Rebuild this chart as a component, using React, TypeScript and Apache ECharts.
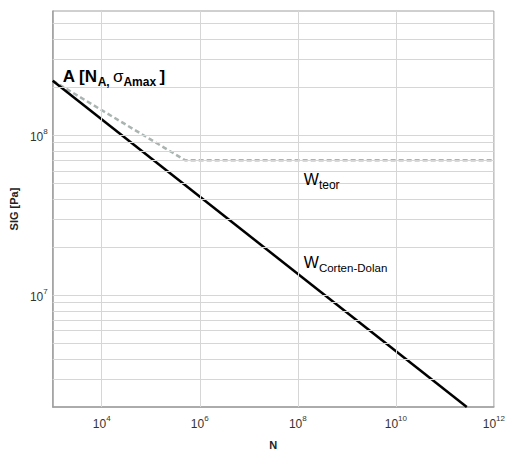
import React, { useEffect, useRef } from "react";
import * as echarts from "echarts";

// Axis extents
const xMin = 1e3;
const xMax = 1e12;
const yMin = 2e6;
const yMax = 6e8;

// Corten-Dolan curve (N, sigma)
const cortenN = [1e3, 2.8e11];
const cortenSig = [2.2e8, 2e6];

// Theoretical curve (N, sigma)
const teorN = [1e3, 5e5, 1e12];
const teorSig = [2.2e8, 7e7, 7e7];

// Grid line positions
const gridXValues = [1e4, 1e6, 1e8, 1e10];
const gridYValues = [
  3e6, 4e6, 5e6, 6e6, 7e6, 8e6, 9e6,
  1e7, 2e7, 3e7, 4e7, 5e7, 6e7, 7e7, 8e7, 9e7,
  1e8, 2e8, 3e8, 4e8, 5e8,
];

// Annotation anchors
const pointA = [1e3, 2.2e8];
const teorLabelAt = [1e8, 7e7];
const cortenLabelAt = [1e8, 1.35e7];

const isPow10 = (v: number) => {
  const l = Math.log10(v);
  return Math.abs(l - Math.round(l)) < 1e-6;
};

const FONT = "Liberation Sans, Arial, sans-serif";

const supRich = {
  b: { fontSize: 12, color: "#333", fontFamily: FONT, lineHeight: 16, verticalAlign: "bottom" },
  s: { fontSize: 8, color: "#333", fontFamily: FONT, lineHeight: 16, verticalAlign: "top" },
};

export default function App() {
  const ref = useRef<HTMLDivElement>(null);
  useEffect(() => {
    if (!ref.current) return;
    const chart = echarts.init(ref.current, null, { renderer: "svg" });
    const gridLine = { color: "#d6d6d6", width: 1, type: "solid" as const };
    chart.setOption({
      animation: false,
      backgroundColor: "#ffffff",
      grid: {
        left: 52,
        top: 11,
        width: 445,
        height: 407,
        show: true,
        borderColor: "#a0a0a0",
        borderWidth: 1,
        backgroundColor: "transparent",
      },
      xAxis: {
        type: "log",
        logBase: 10,
        min: xMin,
        max: xMax,
        name: "N",
        nameLocation: "middle",
        nameGap: 32,
        nameTextStyle: { fontSize: 11, fontWeight: "bold", color: "#222", fontFamily: FONT },
        axisLine: { show: true, lineStyle: { color: "#a0a0a0", width: 1.5 } },
        axisTick: { show: false },
        splitLine: { show: false },
        axisLabel: {
          margin: 7,
          color: "#333",
          formatter: (v: number) => {
            if (!isPow10(v)) return "";
            const e = Math.round(Math.log10(v));
            if (e % 2 !== 0) return "";
            return "{b|10}{s|" + e + "}";
          },
          rich: supRich,
        },
      },
      yAxis: {
        type: "log",
        logBase: 10,
        min: yMin,
        max: yMax,
        name: "SIG [Pa]",
        nameLocation: "middle",
        nameGap: 28,
        nameRotate: 90,
        nameTextStyle: { fontSize: 11, fontWeight: "bold", color: "#222", fontFamily: FONT },
        axisLine: { show: true, lineStyle: { color: "#a0a0a0", width: 1.5 } },
        axisTick: { show: false },
        splitLine: { show: false },
        axisLabel: {
          margin: 5,
          color: "#333",
          formatter: (v: number) => {
            if (!isPow10(v)) return "";
            const e = Math.round(Math.log10(v));
            return "{b|10}{s|" + e + "}";
          },
          rich: supRich,
        },
      },
      series: [
        {
          name: "grid",
          type: "line",
          data: [],
          z: 1,
          silent: true,
          markLine: {
            silent: true,
            symbol: "none",
            label: { show: false },
            lineStyle: gridLine,
            data: [
              ...gridXValues.map((v) => ({ xAxis: v })),
              ...gridYValues.map((v) => ({ yAxis: v })),
            ],
          },
        },
        {
          name: "W teor",
          type: "line",
          z: 3,
          symbol: "none",
          lineStyle: { color: "#aab4b2", width: 2.5, type: [5, 3] },
          data: teorN.map((n, i) => [n, teorSig[i]]),
          markPoint: {
            symbol: "circle",
            symbolSize: 0,
            data: [{ coord: teorLabelAt }],
            label: {
              show: true,
              position: [6, 11],
              align: "left",
              verticalAlign: "top",
              formatter: "{w|W}{t|teor}",
              rich: {
                w: { fontSize: 16, color: "#000", fontFamily: FONT, lineHeight: 20, verticalAlign: "top" },
                t: { fontSize: 12, color: "#000", fontFamily: FONT, lineHeight: 20, verticalAlign: "bottom" },
              },
            },
          },
        },
        {
          name: "W Corten-Dolan",
          type: "line",
          z: 4,
          symbol: "none",
          lineStyle: { color: "#000000", width: 2.5 },
          data: cortenN.map((n, i) => [n, cortenSig[i]]),
          markPoint: {
            symbol: "circle",
            symbolSize: 0,
            data: [
              {
                coord: cortenLabelAt,
                label: {
                  show: true,
                  position: [6, -20],
                  align: "left",
                  verticalAlign: "top",
                  formatter: "{w|W}{t|Corten-Dolan}",
                  rich: {
                    w: { fontSize: 16, color: "#000", fontFamily: FONT, lineHeight: 20, verticalAlign: "top" },
                    t: { fontSize: 11.5, color: "#000", fontFamily: FONT, lineHeight: 20, verticalAlign: "bottom" },
                  },
                },
              },
              {
                coord: pointA,
                label: {
                  show: true,
                  position: [10, -13],
                  align: "left",
                  verticalAlign: "top",
                  formatter: "{a|A [N}{s|A,} {g|σ}{s|Amax} {a|]}",
                  rich: {
                    a: { fontSize: 17, fontWeight: "bold", color: "#000", fontFamily: FONT, lineHeight: 20, verticalAlign: "top" },
                    g: { fontSize: 17, color: "#000", fontFamily: FONT, lineHeight: 20, verticalAlign: "top" },
                    s: { fontSize: 12, fontWeight: "bold", color: "#000", fontFamily: FONT, lineHeight: 20, verticalAlign: "bottom" },
                  },
                },
              },
            ],
          },
        },
      ],
    });
    return () => chart.dispose();
  }, []);
  return (
    <div
      ref={ref}
      style={{ position: "fixed", left: 0, top: 0, width: 508, height: 455, background: "#fff" }}
    />
  );
}
